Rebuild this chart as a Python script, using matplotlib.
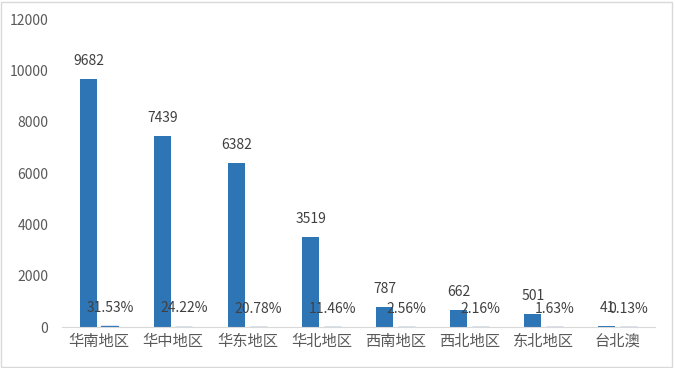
import matplotlib
matplotlib.use("Agg")
import matplotlib.pyplot as plt
import numpy as np
from matplotlib.patches import Rectangle

plt.rcParams["font.family"] = ["Noto Sans CJK SC", "DejaVu Sans"]

regions = ["华南地区", "华中地区", "华东地区", "华北地区", "西南地区", "西北地区", "东北地区", "台北澳"]
counts = [9682, 7439, 6382, 3519, 787, 662, 501, 41]
shares = [31.53, 24.22, 20.78, 11.46, 2.56, 2.16, 1.63, 0.13]
yticks = [0, 2000, 4000, 6000, 8000, 10000, 12000]

blue = "#2E75B6"
grey = "#595959"

fig = plt.figure(figsize=(6.75, 3.68), dpi=100)
ax = fig.add_axes([0.092, 0.111, 0.878, 0.837])

x = np.arange(len(regions))
w = 0.23
off = 0.145

b1 = ax.bar(x - off, counts, width=w, color=blue)
b2 = ax.bar(x + off, shares, width=w, color=blue, edgecolor=blue, linewidth=1)

# value labels above each bar
for rect, v in zip(b1, counts):
    ax.annotate(str(v), (rect.get_x() + rect.get_width() / 2, rect.get_height()),
                xytext=(0, 8), textcoords="offset points", ha="center", va="bottom",
                fontsize=10, color="#404040")
for rect, v in zip(b2, shares):
    ax.annotate(f"{v:.2f}%", (rect.get_x() + rect.get_width() / 2, rect.get_height()),
                xytext=(0, 8), textcoords="offset points", ha="center", va="bottom",
                fontsize=10, color="#404040")

ax.set_xlim(-0.5, len(regions) - 0.5)
ax.set_ylim(0, 12000)
ax.set_yticks(yticks)
ax.set_yticklabels([str(t) for t in yticks], fontsize=10, color=grey)
ax.set_xticks(x)
ax.set_xticklabels(regions, fontsize=11, color=grey)
ax.tick_params(axis="both", length=0)
ax.tick_params(axis="y", pad=10)
ax.tick_params(axis="x", pad=4)

for s in ["top", "right", "left"]:
    ax.spines[s].set_visible(False)
ax.spines["bottom"].set_color("#d9d9d9")

fig.patches.append(Rectangle((0.002, 0.004), 0.994, 0.99, transform=fig.transFigure,
                             fill=False, edgecolor="#d9d9d9", linewidth=1))

fig.savefig("out.png", dpi=100)
